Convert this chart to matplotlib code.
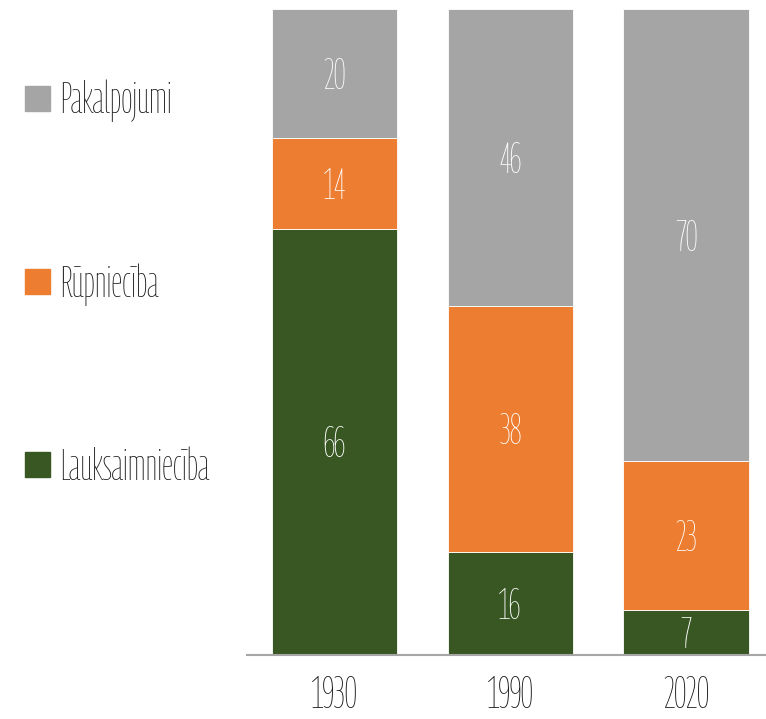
import matplotlib
matplotlib.use("Agg")
import matplotlib.pyplot as plt
from matplotlib import font_manager
from matplotlib.ft2font import FT2Font
from matplotlib.textpath import TextPath
from matplotlib.patches import Rectangle

# Data
years = ["1930", "1990", "2020"]
lauksaimnieciba = [66, 16, 7]
rupnieciba = [14, 38, 23]
pakalpojumi = [20, 46, 70]

series_names = ["Lauksaimniecība", "Rūpniecība", "Pakalpojumi"]
series_values = [lauksaimnieciba, rupnieciba, pakalpojumi]
colors = ["#385723", "#ED7D31", "#A5A5A5"]


def weight_num(w):
	if isinstance(w, int):
		return w
	table = {"ultralight": 100, "light": 300, "normal": 400, "regular": 400, "book": 400,
			 "medium": 500, "semibold": 600, "demibold": 600, "bold": 700, "heavy": 800, "black": 900}
	return table.get(str(w).lower(), 400)


# pick the narrowest upright condensed face that has the Latvian letters
best = None
seen = set()
for f in font_manager.fontManager.ttflist:
	if f.fname in seen or f.style != "normal" or "CJK" in f.name:
		continue
	st = str(f.stretch).lower()
	if not ("condensed" in st or "Condensed" in f.name or "Narrow" in f.name
			or "Condensed" in f.fname or "Narrow" in f.fname):
		continue
	seen.add(f.fname)
	try:
		ft = FT2Font(f.fname)
		if any(ft.get_char_index(ord(c)) == 0 for c in "ūīLa0123456789"):
			continue
		prop = font_manager.FontProperties(fname=f.fname)
		w = TextPath((0, 0), "Lauksaimniecība", size=100, prop=prop).get_extents().width
		cap = TextPath((0, 0), "H", size=100, prop=prop).get_extents().height
	except Exception:
		continue
	if cap <= 0:
		continue
	key = (round(w / cap, 1), abs(weight_num(f.weight) - 300))
	if best is None or key < best[0]:
		best = (key, f.fname, cap / 100.0)

if best is not None:
	fp = font_manager.FontProperties(fname=best[1])
	cap_frac = best[2]
else:
	fp = font_manager.FontProperties(family="DejaVu Sans")
	cap_frac = 0.73


def size_for_cap(px):
	# font size in points that gives a cap height of px pixels at 100 dpi
	return px / cap_frac * 72 / 100


fig = plt.figure(figsize=(7.66, 7.19), dpi=100)
ax = fig.add_axes([246.7 / 766, 63.7 / 719, 1 - 246.7 / 766, 646.6 / 719])

x = list(range(len(years)))
bottom = [0, 0, 0]
val_cap = 31
for name, vals, col in zip(series_names, series_values, colors):
	ax.bar(x, vals, width=0.714, bottom=bottom, color=col, label=name,
		   edgecolor="white", linewidth=0.6)
	for xi, b, v in zip(x, bottom, vals):
		ax.annotate(str(v), (xi, b + v / 2), xytext=(0, -val_cap / 2 * 0.72),
					textcoords="offset points", ha="center", va="baseline",
					color="white", fontproperties=fp, fontsize=size_for_cap(val_cap))
	bottom = [b + v for b, v in zip(bottom, vals)]

ax.set_xlim(-0.501, 2.455)
ax.set_ylim(0, 100)
ax.set_xticks(x)
ax.set_xticklabels(years, fontproperties=fp, fontsize=size_for_cap(32), color="#1a1a1a")
for lbl in ax.get_xticklabels():
	lbl.set_va("baseline")
ax.tick_params(axis="x", length=0, pad=53 * 0.72)
ax.set_yticks([])
for s in ["top", "right", "left"]:
	ax.spines[s].set_visible(False)
ax.spines["bottom"].set_color("#a6a6a6")
ax.spines["bottom"].set_linewidth(1.5)

# legend, placed by hand
leg_y = [464, 281, 98]
leg_cap = 31
for name, col, yc in zip(series_names, colors, leg_y):
	fig.add_artist(Rectangle((25 / 766, (719 - yc - 12.5) / 719), 25 / 766, 25 / 719,
							 transform=fig.transFigure, color=col))
	fig.text(60 / 766, (719 - yc - leg_cap / 2) / 719, name, ha="left", va="baseline",
			 fontproperties=fp, fontsize=size_for_cap(leg_cap), color="#1a1a1a")

fig.savefig("out.png", dpi=100)
